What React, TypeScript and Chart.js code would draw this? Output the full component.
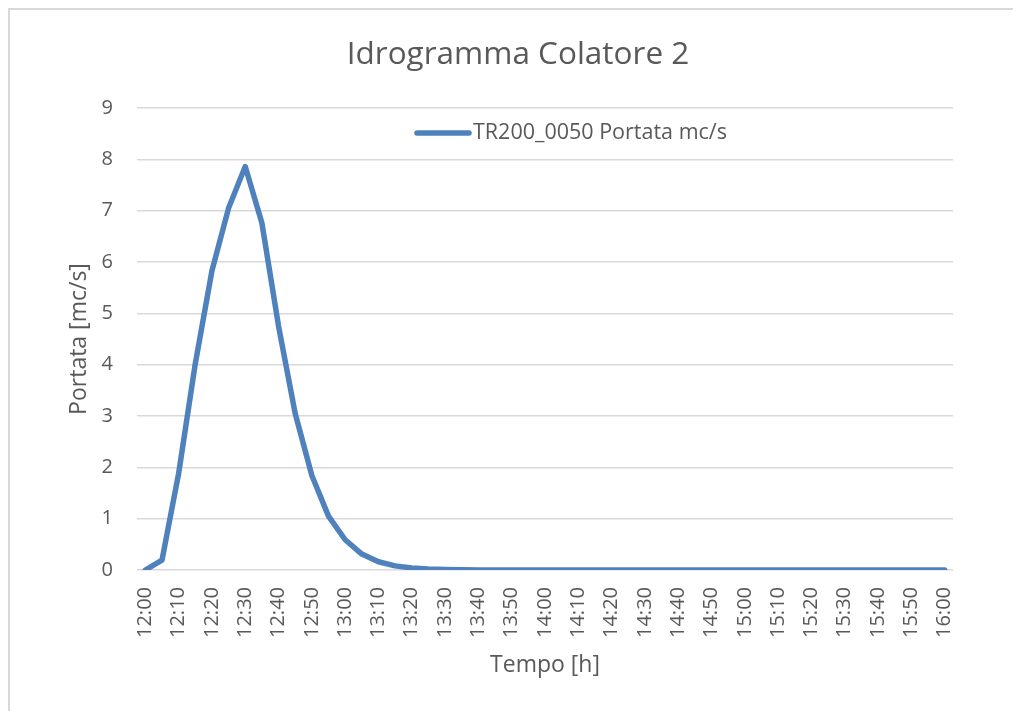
import React, { useEffect, useRef } from "react";
import { Chart, registerables } from "chart.js";

Chart.register(...registerables);

const timeLabels: string[] = [
  "12:00", "12:05", "12:10", "12:15", "12:20", "12:25", "12:30", "12:35", "12:40", "12:45",
  "12:50", "12:55", "13:00", "13:05", "13:10", "13:15", "13:20", "13:25", "13:30", "13:35",
  "13:40", "13:45", "13:50", "13:55", "14:00", "14:05", "14:10", "14:15", "14:20", "14:25",
  "14:30", "14:35", "14:40", "14:45", "14:50", "14:55", "15:00", "15:05", "15:10", "15:15",
  "15:20", "15:25", "15:30", "15:35", "15:40", "15:45", "15:50", "15:55", "16:00",
];

const portata: number[] = [
  0, 0.19, 1.88, 4.02, 5.83, 7.05, 7.86, 6.76, 4.75, 3.05,
  1.84, 1.05, 0.59, 0.31, 0.16, 0.08, 0.04, 0.02, 0.01, 0.005,
  0.002, 0.001, 0, 0, 0, 0, 0, 0, 0, 0,
  0, 0, 0, 0, 0, 0, 0, 0, 0, 0,
  0, 0, 0, 0, 0, 0, 0, 0, 0,
];

const seriesName = "TR200_0050 Portata mc/s";
const chartTitle = "Idrogramma Colatore 2";
const yTitle = "Portata [mc/s]";
const xTitle = "Tempo [h]";

const FONT = "'Open Sans', sans-serif";
const TEXT = "#595959";
const LINE = "#4F81BD";
const GRID = "#d9d9d9";

const textPlugin = {
  id: "titleAndLegend",
  afterDraw(chart: any) {
    const ctx = chart.ctx;
    const ds = chart.data.datasets[0];
    ctx.save();
    // title
    ctx.fillStyle = TEXT;
    ctx.font = `31.5px ${FONT}`;
    ctx.textBaseline = "middle";
    ctx.textAlign = "center";
    ctx.fillText(chartTitle, 508, 45);
    // legend
    const y = 123;
    ctx.strokeStyle = ds.borderColor;
    ctx.lineWidth = 5.5;
    ctx.lineCap = "round";
    ctx.beginPath();
    ctx.moveTo(407, y);
    ctx.lineTo(459, y);
    ctx.stroke();
    ctx.font = `21.5px ${FONT}`;
    ctx.textAlign = "left";
    ctx.fillText(ds.label, 463, y);
    ctx.restore();
  },
};

export default function App() {
  const ref = useRef<HTMLCanvasElement | null>(null);

  useEffect(() => {
    document.body.style.overflow = "hidden";
    if (!ref.current) return;
    const chart = new Chart(ref.current, {
      type: "line",
      data: {
        labels: timeLabels,
        datasets: [
          {
            label: seriesName,
            data: portata,
            borderColor: LINE,
            backgroundColor: LINE,
            borderWidth: 5.5,
            pointRadius: 0,
            tension: 0,
            borderCapStyle: "round",
            borderJoinStyle: "round",
          },
        ],
      },
      options: {
        responsive: false,
        animation: false,
        layout: { padding: { left: 0, right: 68, top: 98, bottom: 0 } },
        plugins: {
          legend: { display: false },
          tooltip: { enabled: false },
          title: { display: false },
        },
        scales: {
          x: {
            type: "category",
            offset: true,
            grid: { display: false, drawTicks: false },
            border: { display: false },
            afterFit(scale: any) {
              scale.height = 141;
            },
            ticks: {
              autoSkip: false,
              maxRotation: 90,
              minRotation: 90,
              padding: 17,
              color: TEXT,
              font: { family: FONT, size: 20 },
              callback(_v: any, i: number) {
                return i % 2 === 0 ? timeLabels[i] : "";
              },
            },
            title: {
              display: true,
              text: xTitle,
              color: TEXT,
              font: { family: FONT, size: 23 },
              padding: { top: 0, bottom: 32 },
            },
          },
          y: {
            min: 0,
            max: 9,
            grid: { color: GRID, lineWidth: 1.5, drawTicks: false },
            border: { display: false },
            afterFit(scale: any) {
              scale.width = 127;
            },
            ticks: {
              stepSize: 1,
              padding: 24,
              color: TEXT,
              font: { family: FONT, size: 20 },
            },
            title: {
              display: true,
              text: yTitle,
              color: TEXT,
              font: { family: FONT, size: 23 },
              padding: { top: 56, bottom: 0 },
            },
          },
        },
      },
      plugins: [textPlugin],
    });
    return () => chart.destroy();
  }, []);

  return (
    <div
      style={{
        width: 1011,
        height: 701,
        borderLeft: `2px solid ${GRID}`,
        borderTop: `2px solid ${GRID}`,
        background: "#fff",
      }}
    >
      <canvas ref={ref} width={1011} height={701} style={{ display: "block" }} />
    </div>
  );
}
